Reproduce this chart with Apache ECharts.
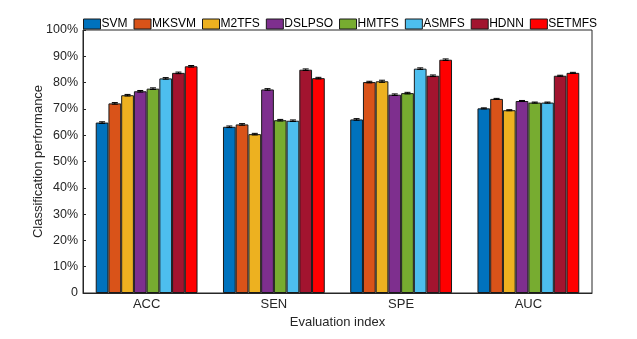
<!DOCTYPE html>
<html>
<head>
<meta charset="utf-8">
<script src="https://cdn.jsdelivr.net/npm/echarts@6/dist/echarts.min.js"></script>
<style>
  html, body { margin: 0; padding: 0; background: #fff; }
  #chart { width: 637px; height: 339px; }
</style>
</head>
<body>
<div id="chart"></div>
<script>
// categories / methods
const categories = ['ACC', 'SEN', 'SPE', 'AUC'];
const methods = ['SVM', 'MKSVM', 'M2TFS', 'DSLPSO', 'HMTFS', 'ASMFS', 'HDNN', 'SETMFS'];
const colors = ['#0072BD', '#D95319', '#EDB120', '#7E2F8E', '#77AC30', '#4DBEEE', '#A2142F', '#FF0000'];

// values in % for ACC, SEN, SPE, AUC
const svm    = [64.8, 63.2, 66.0, 70.2];
const mksvm  = [72.1, 64.1, 80.2, 73.8];
const m2tfs  = [75.2, 60.4, 80.5, 69.5];
const dslpso = [76.7, 77.4, 75.4, 73.0];
const hmtfs  = [77.7, 65.7, 76.0, 72.4];
const asmfs  = [81.6, 65.5, 85.3, 72.4];
const hdnn   = [83.7, 84.9, 82.6, 82.6];
const setmfs = [86.2, 81.7, 88.7, 83.7];
const values = [svm, mksvm, m2tfs, dslpso, hmtfs, asmfs, hdnn, setmfs];

// small error bars (std, %)
const errors = [
  [0.3, 0.3, 0.3, 0.2],
  [0.3, 0.3, 0.3, 0.2],
  [0.3, 0.3, 0.4, 0.2],
  [0.3, 0.3, 0.3, 0.2],
  [0.3, 0.3, 0.3, 0.2],
  [0.3, 0.3, 0.3, 0.2],
  [0.3, 0.3, 0.3, 0.2],
  [0.3, 0.3, 0.3, 0.2]
];

const yTicks = [0, 10, 20, 30, 40, 50, 60, 70, 80, 90, 100];

const chart = echarts.init(document.getElementById('chart'));

const catGap = 0.2;
const font = 'Liberation Sans, Arial, sans-serif';

const barSeries = methods.map((name, i) => ({
  name: name,
  type: 'bar',
  data: values[i],
  barGap: '0%',
  barCategoryGap: (catGap * 100) + '%',
  itemStyle: { color: colors[i], borderColor: '#1a1a1a', borderWidth: 1 },
  emphasis: { disabled: true }
}));

// error bar data: [catIndex, value, err, methodIndex]
const errData = [];
values.forEach((arr, s) => {
  arr.forEach((v, c) => errData.push([c, v, errors[s][c], s]));
});

const errSeries = {
  type: 'custom',
  z: 5,
  silent: true,
  data: errData,
  renderItem: function (params, api) {
    const c = api.value(0), v = api.value(1), e = api.value(2), s = api.value(3);
    const band = api.size([1, 0])[0];
    const barW = band * (1 - catGap) / methods.length;
    const base = api.coord([c, v]);
    const x = base[0] + (s - (methods.length - 1) / 2) * barW;
    const yHi = api.coord([c, v + e])[1];
    const yLo = api.coord([c, v - e])[1];
    const cap = 3;
    const st = { stroke: '#000', lineWidth: 1 };
    return {
      type: 'group',
      children: [
        { type: 'line', shape: { x1: x, y1: yHi, x2: x, y2: yLo }, style: st },
        { type: 'line', shape: { x1: x - cap, y1: yHi, x2: x + cap, y2: yHi }, style: st },
        { type: 'line', shape: { x1: x - cap, y1: yLo, x2: x + cap, y2: yLo }, style: st }
      ]
    };
  }
};

chart.setOption({
  animation: false,
  backgroundColor: '#fff',
  textStyle: { fontFamily: font },
  grid: {
    left: 83, right: 45, top: 30, bottom: 46,
    show: true, borderColor: '#262626', borderWidth: 1, backgroundColor: 'transparent'
  },
  legend: {
    data: methods,
    top: 13,
    left: 78,
    itemWidth: 17,
    itemHeight: 10,
    itemGap: 6,
    icon: 'rect',
    itemStyle: { borderColor: '#1a1a1a', borderWidth: 1 },
    textStyle: { fontSize: 12, color: '#000', fontFamily: font, padding: [0, 0, 0, -4] }
  },
  xAxis: {
    type: 'category',
    data: categories,
    name: 'Evaluation index',
    nameLocation: 'middle',
    nameGap: 20,
    nameTextStyle: { fontSize: 13, color: '#262626' },
    axisLine: { lineStyle: { color: '#262626', width: 1 } },
    axisTick: { show: false },
    axisLabel: { fontSize: 13, color: '#262626', margin: 5 }
  },
  yAxis: {
    type: 'value',
    min: 0,
    max: 100,
    interval: 10,
    name: 'Classification performance',
    nameLocation: 'middle',
    nameGap: 38,
    nameMoveOverlap: false,
    nameTextStyle: { fontSize: 13, color: '#262626' },
    axisLine: { show: true, lineStyle: { color: '#262626', width: 1 } },
    axisTick: { show: true, inside: true, length: 3, lineStyle: { color: '#262626' } },
    splitLine: { show: false },
    axisLabel: {
      fontSize: 12.5, color: '#262626', margin: 5,
      formatter: v => (yTicks.indexOf(v) >= 0 ? (v === 0 ? '0' : v + '%') : '')
    }
  },
  series: barSeries.concat([errSeries])
});
</script>
</body>
</html>
